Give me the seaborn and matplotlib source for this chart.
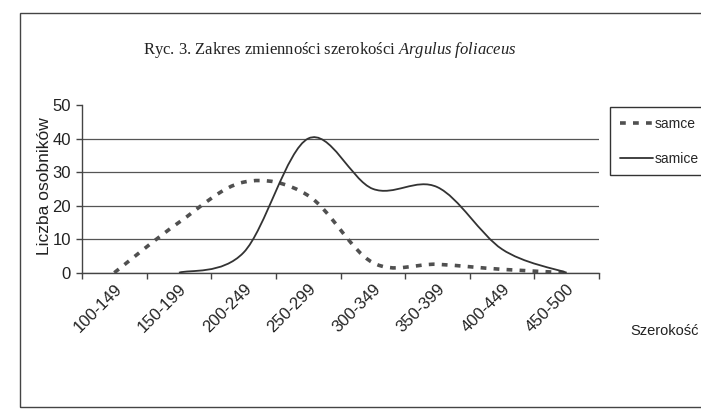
import numpy as np
import pandas as pd
import matplotlib
matplotlib.use('Agg')
import matplotlib.pyplot as plt
from matplotlib.path import Path
from matplotlib.patches import PathPatch, Rectangle
import seaborn as sns

# Data
zakresy = ['100-149', '150-199', '200-249', '250-299', '300-349', '350-399', '400-449', '450-500']
samce = [0, 15, 27, 23, 3, 2.5, 1, 0]
samice = [np.nan, 0, 6, 40, 25, 25.5, 7, 0]
y_ticks = [0, 10, 20, 30, 40, 50]

sns.set_style('white')
plt.rcParams['font.family'] = ['Liberation Sans', 'DejaVu Sans']
plt.rcParams['mathtext.fontset'] = 'custom'
plt.rcParams['mathtext.rm'] = 'Liberation Serif'
plt.rcParams['mathtext.it'] = 'Liberation Serif:italic'

W, H = 701, 411
DASH = (0, (1.6, 2.0))
df = pd.DataFrame({'poz': np.arange(len(zakresy)), 'samce': samce, 'samice': samice})


def smooth_path(xy):
    """Excel-like smoothed line: cubic Bezier through the data points."""
    xy = xy[np.isfinite(xy).all(axis=1)]
    n = len(xy)
    verts = [xy[0]]
    codes = [Path.MOVETO]
    for i in range(n - 1):
        p0 = xy[i - 1] if i > 0 else xy[i]
        p1, p2 = xy[i], xy[i + 1]
        p3 = xy[i + 2] if i + 2 < n else xy[i + 1]
        verts += [p1 + (p2 - p0) / 6, p2 - (p3 - p1) / 6, p2]
        codes += [Path.CURVE4] * 3
    return Path(verts, codes)


fig = plt.figure(figsize=(W / 100, H / 100), dpi=100)
ax = fig.add_axes([82 / W, 1 - 272.7 / H, (599 - 82) / W, (272.7 - 105) / H])

sns.lineplot(data=df, x='poz', y='samce', ax=ax, color='#505050', lw=2.6,
             linestyle=DASH, label='samce')
sns.lineplot(data=df, x='poz', y='samice', ax=ax, color='#333333', lw=1.3,
             label='samice')

ax.set_xlim(-0.5, len(zakresy) - 0.5)
ax.set_ylim(0, 50)
ax.set_yticks(y_ticks)
ax.set_yticklabels([str(t) for t in y_ticks], fontsize=12, color='#222222')
ax.set_xticks(np.arange(len(zakresy) + 1) - 0.5)
ax.set_xticklabels([])
ax.set_xticks(np.arange(len(zakresy)), minor=True)
ax.set_xticklabels(zakresy, minor=True, rotation=45, ha='right',
                   rotation_mode='anchor', fontsize=12, color='#222222')
ax.tick_params(axis='x', which='minor', length=0, pad=6)
ax.tick_params(axis='x', which='major', direction='out', length=4, width=1, color='#444444', bottom=True)
ax.tick_params(axis='y', direction='out', length=4, width=1, color='#444444', left=True, pad=4)

ax.grid(axis='y', color='#555555', lw=0.9)
ax.yaxis.get_gridlines()[-1].set_visible(False)
for side in ['top', 'right']:
    ax.spines[side].set_visible(False)
for side in ['left', 'bottom']:
    ax.spines[side].set_color('#444444')
    ax.spines[side].set_linewidth(1)

ax.set_xlabel('')
ax.set_ylabel('Liczba osobników', fontsize=12.5, color='#222222')
ax.yaxis.set_label_coords(-0.058, 0.514)

leg = ax.legend(loc='upper left', bbox_to_anchor=(610 / W, 1 - 107 / H),
                bbox_transform=fig.transFigure, fontsize=10, frameon=True,
                fancybox=False, framealpha=1, edgecolor='#333333',
                borderpad=0.7, labelspacing=1.5, handlelength=2.4,
                handletextpad=0.15, borderaxespad=0)
leg.get_frame().set_linewidth(1)

# swap the straight segments for smoothed curves
for line in ax.lines:
    ls = '-' if line.get_linestyle() == '-' else DASH
    patch = PathPatch(smooth_path(line.get_xydata()), fill=False,
                      edgecolor=line.get_color(), lw=line.get_linewidth(),
                      linestyle=ls, capstyle='butt', joinstyle='round')
    ax.add_patch(patch)
    line.set_visible(False)

fig.text(143 / W, 1 - 50 / H,
         'Ryc. 3. Zakres zmienności szerokości $\\it{Argulus\\ foliaceus}$',
         family='Liberation Serif', fontsize=12, va='center', color='#222222')
fig.text(630 / W, 1 - 331 / H, 'Szerokość', fontsize=10.5, va='center', color='#222222')

fig.add_artist(Rectangle((20 / W, 4 / H), 1.2, (H - 13 - 4) / H, transform=fig.transFigure,
                         fill=False, edgecolor='#444444', lw=1, clip_on=False))

fig.savefig('out.png', dpi=100, facecolor='white')
